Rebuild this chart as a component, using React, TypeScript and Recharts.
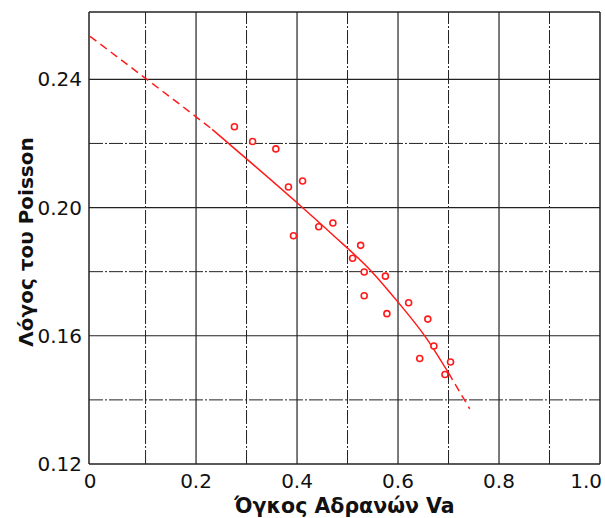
import { ComposedChart, XAxis, YAxis, Line, Scatter, ReferenceLine } from "recharts";

const xTicks = [0, 0.2, 0.4, 0.6, 0.8, 1.0];
const yTicks = [0.12, 0.16, 0.2, 0.24];
const xMajorGrid = [0.2, 0.4, 0.6, 0.8];
const xMinorGrid = [0.1, 0.3, 0.5, 0.7, 0.9];
const yMajorGrid = [0.16, 0.2, 0.24];
const yMinorGrid = [0.14, 0.18, 0.22];

// measured specimens (volume of aggregates vs Poisson ratio)
const measured = [
  { x: 0.276, y: 0.2252 },
  { x: 0.312, y: 0.2206 },
  { x: 0.358, y: 0.2183 },
  { x: 0.383, y: 0.2064 },
  { x: 0.411, y: 0.2083 },
  { x: 0.393, y: 0.1912 },
  { x: 0.443, y: 0.194 },
  { x: 0.471, y: 0.1952 },
  { x: 0.51, y: 0.1842 },
  { x: 0.526, y: 0.1882 },
  { x: 0.533, y: 0.1799 },
  { x: 0.533, y: 0.1725 },
  { x: 0.575, y: 0.1786 },
  { x: 0.578, y: 0.1669 },
  { x: 0.621, y: 0.1703 },
  { x: 0.659, y: 0.1652 },
  { x: 0.671, y: 0.1568 },
  { x: 0.643, y: 0.1529 },
  { x: 0.704, y: 0.1518 },
  { x: 0.693, y: 0.1479 },
];

// fitted curve
const fitDashLeft = [
  { x: -0.01, y: 0.2534 },
  { x: 0.1, y: 0.2403 },
  { x: 0.2, y: 0.2283 },
  { x: 0.232, y: 0.2244 },
];
const fitSolid = [
  { x: 0.232, y: 0.2244 },
  { x: 0.3, y: 0.2152 },
  { x: 0.4, y: 0.2015 },
  { x: 0.47, y: 0.1916 },
  { x: 0.548, y: 0.18 },
  { x: 0.6, y: 0.1705 },
  { x: 0.655, y: 0.1595 },
  { x: 0.7, y: 0.1484 },
];
const fitDashRight = [
  { x: 0.7, y: 0.1484 },
  { x: 0.742, y: 0.1372 },
];

const RED = "#ff1a1a";
const GRID = "#222";
const FONT = "DejaVu Sans";

const Ring = (props: any) => (
  <circle cx={props.cx} cy={props.cy} r={3} fill="#fff" stroke={RED} strokeWidth={1.6} />
);

// edge labels are pulled inwards like in the original plot
const XTick = (p: any) => {
  const v = p.payload.value;
  let anchor: "middle" | "end" = "middle";
  let dx = 0;
  if (v === 0) dx = -5;
  if (v === 1) {
    anchor = "end";
    dx = 2;
  }
  return (
    <text
      x={p.x + dx}
      y={p.y}
      dy="0.71em"
      textAnchor={anchor}
      fill="#111"
      fontSize={20}
      fontFamily={FONT}
    >
      {v === 0 ? "0" : v.toFixed(1)}
    </text>
  );
};

export default function App() {
  return (
    <div style={{ position: "absolute", left: 0, top: 0, width: 605, height: 518, background: "#fff" }}>
      <ComposedChart
        width={605}
        height={518}
        margin={{ top: 12, right: 5, bottom: 0, left: 0 }}
      >
        <XAxis
          type="number"
          dataKey="x"
          domain={[-0.012, 1]}
          allowDataOverflow
          ticks={xTicks}
          tick={<XTick />}
          tickLine={false}
          tickSize={6}
          tickMargin={4}
          axisLine={{ stroke: GRID, strokeWidth: 1.5 }}
          height={54}
          label={{
            content: (p: any) => {
              const vb = p.viewBox;
              return (
                <text
                  x={vb.x + vb.width / 2}
                  y={vb.y + 49}
                  textAnchor="middle"
                  fontFamily={FONT}
                  fontWeight="bold"
                  fontSize={20.5}
                  fill="#111"
                >
                  Όγκος Αδρανών Va
                </text>
              );
            },
          }}
        />
        <YAxis
          type="number"
          dataKey="y"
          domain={[0.12, 0.261]}
          allowDataOverflow
          ticks={yTicks}
          tickFormatter={(v: number) => v.toFixed(2)}
          tick={{ fill: "#111", fontSize: 20, fontFamily: FONT }}
          tickLine={false}
          tickSize={5}
          tickMargin={2}
          axisLine={{ stroke: GRID, strokeWidth: 1.5 }}
          width={89}
          label={{
            content: (p: any) => {
              const vb = p.viewBox;
              const cx = vb.x + 33;
              const cy = vb.y + vb.height / 2 + 4;
              return (
                <text
                  x={cx}
                  y={cy}
                  transform={`rotate(-90 ${cx} ${cy})`}
                  textAnchor="middle"
                  fontFamily={FONT}
                  fontWeight="bold"
                  fontSize={20}
                  fill="#111"
                >
                  Λόγος του Poisson
                </text>
              );
            },
          }}
        />

        {xMinorGrid.map((v) => (
          <ReferenceLine key={`xm-${v}`} x={v} stroke={GRID} strokeWidth={1} strokeDasharray="14 2 2 2" />
        ))}
        {yMinorGrid.map((v) => (
          <ReferenceLine key={`ym-${v}`} y={v} stroke={GRID} strokeWidth={1} strokeDasharray="14 2 2 2" />
        ))}
        {xMajorGrid.map((v) => (
          <ReferenceLine key={`xM-${v}`} x={v} stroke={GRID} strokeWidth={1.2} />
        ))}
        {yMajorGrid.map((v) => (
          <ReferenceLine key={`yM-${v}`} y={v} stroke={GRID} strokeWidth={1.2} />
        ))}
        <ReferenceLine x={1} stroke={GRID} strokeWidth={1.5} />
        <ReferenceLine y={0.261} stroke={GRID} strokeWidth={1.5} />

        <Line
          data={fitDashLeft}
          dataKey="y"
          type="monotone"
          stroke={RED}
          strokeWidth={1.5}
          strokeDasharray="8 5"
          dot={false}
          isAnimationActive={false}
        />
        <Line
          data={fitSolid}
          dataKey="y"
          type="monotone"
          stroke={RED}
          strokeWidth={1.5}
          dot={false}
          isAnimationActive={false}
        />
        <Line
          data={fitDashRight}
          dataKey="y"
          type="monotone"
          stroke={RED}
          strokeWidth={1.5}
          strokeDasharray="8 5"
          dot={false}
          isAnimationActive={false}
        />
        <Scatter data={measured} dataKey="y" shape={Ring} isAnimationActive={false} />
      </ComposedChart>
    </div>
  );
}
